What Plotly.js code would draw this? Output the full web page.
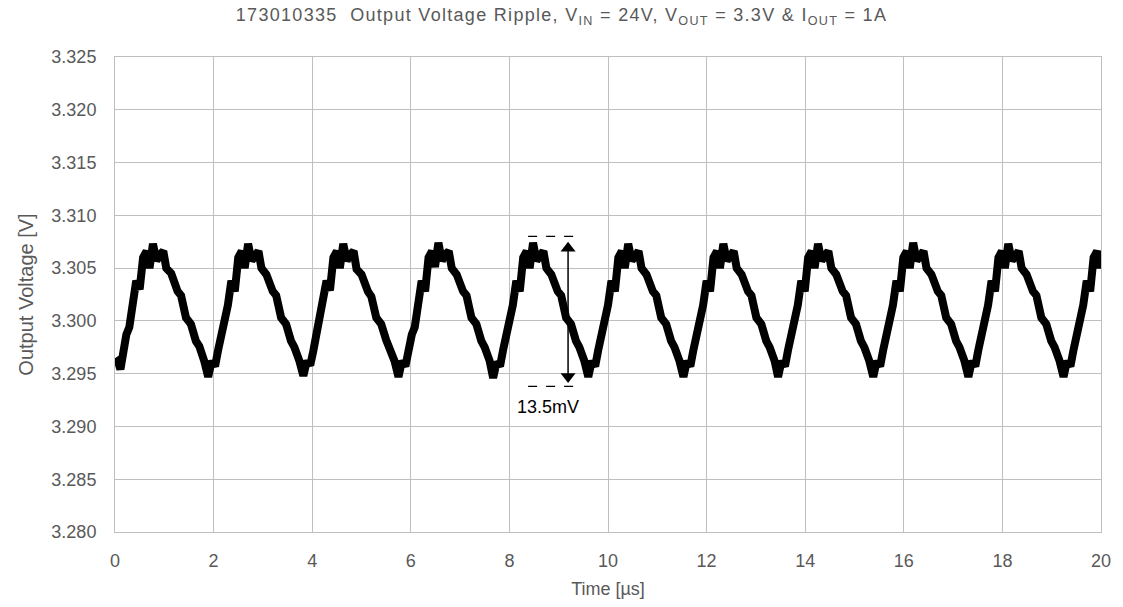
<!DOCTYPE html>
<html>
<head>
<meta charset="utf-8">
<script src="https://cdn.plot.ly/plotly-3.0.1.min.js"></script>
<style>html,body{margin:0;padding:0;background:#fff;}#chart{width:1123px;height:607px;}</style>
</head>
<body>
<div id="chart"></div>
<script>
// Time in microseconds
const timeUs = [
  0.00,0.06,0.11,0.16,0.23,0.29,0.36,0.43,0.50,0.57,0.64,0.70,0.77,0.84,0.91,0.98,1.04,1.14,1.27,1.34,1.44,1.54,1.64,1.71,1.81,
  1.89,1.96,2.03,2.09,2.16,2.22,2.29,2.36,2.43,2.50,2.57,2.63,2.70,2.77,2.84,2.91,2.97,3.07,3.20,3.27,3.37,3.47,3.57,3.64,3.74,
  3.82,3.89,3.96,4.02,4.09,4.15,4.22,4.29,4.36,4.43,4.50,4.56,4.63,4.70,4.77,4.84,4.90,5.00,5.13,5.20,5.30,5.40,5.50,5.57,5.67,
  5.75,5.82,5.89,5.95,6.02,6.08,6.15,6.22,6.29,6.36,6.43,6.49,6.56,6.63,6.70,6.77,6.83,6.93,7.06,7.13,7.23,7.33,7.43,7.50,7.60,
  7.67,7.74,7.81,7.87,7.94,8.00,8.07,8.14,8.21,8.28,8.35,8.41,8.48,8.55,8.62,8.69,8.75,8.85,8.98,9.05,9.15,9.25,9.35,9.42,9.52,
  9.60,9.67,9.74,9.80,9.87,9.93,10.00,10.07,10.14,10.21,10.28,10.34,10.41,10.48,10.55,10.62,10.68,10.78,10.91,10.98,11.08,11.18,11.28,11.35,11.45,
  11.53,11.60,11.67,11.73,11.80,11.86,11.93,12.00,12.07,12.14,12.21,12.27,12.34,12.41,12.48,12.55,12.61,12.71,12.84,12.91,13.01,13.11,13.21,13.28,13.38,
  13.45,13.52,13.59,13.65,13.72,13.78,13.85,13.92,13.99,14.06,14.13,14.19,14.26,14.33,14.40,14.47,14.53,14.63,14.76,14.83,14.93,15.03,15.13,15.20,15.30,
  15.38,15.45,15.52,15.58,15.65,15.71,15.78,15.85,15.92,15.99,16.06,16.12,16.19,16.26,16.33,16.40,16.46,16.56,16.69,16.76,16.86,16.96,17.06,17.13,17.23,
  17.31,17.38,17.45,17.51,17.58,17.64,17.71,17.78,17.85,17.92,17.99,18.05,18.12,18.19,18.26,18.33,18.39,18.49,18.62,18.69,18.79,18.89,18.99,19.06,19.16,
  19.24,19.31,19.38,19.44,19.51,19.57,19.64,19.71,19.78,19.85,19.92,19.98,20.00
];
// Output voltage in volts
const voltageV = [
  3.2960,3.2962,3.2954,3.2972,3.2987,3.2994,3.3015,3.3038,3.3030,3.3060,3.3066,3.3050,3.3073,3.3057,3.3063,3.3066,3.3050,3.3045,3.3028,3.3024,3.3003,3.2997,3.2981,3.2976,3.2962,
  3.2947,3.2962,3.2957,3.2972,3.2987,3.2994,3.3015,3.3038,3.3028,3.3060,3.3066,3.3050,3.3073,3.3057,3.3063,3.3066,3.3050,3.3044,3.3028,3.3024,3.3003,3.2997,3.2981,3.2975,3.2962,
  3.2948,3.2962,3.2958,3.2971,3.2988,3.2994,3.3014,3.3038,3.3029,3.3060,3.3066,3.3050,3.3073,3.3057,3.3063,3.3066,3.3049,3.3044,3.3028,3.3023,3.3003,3.2997,3.2982,3.2975,3.2962,
  3.2947,3.2962,3.2957,3.2972,3.2987,3.2994,3.3015,3.3038,3.3028,3.3060,3.3066,3.3051,3.3074,3.3057,3.3063,3.3066,3.3050,3.3044,3.3028,3.3024,3.3003,3.2997,3.2981,3.2975,3.2962,
  3.2946,3.2961,3.2957,3.2972,3.2987,3.2994,3.3015,3.3038,3.3028,3.3060,3.3066,3.3050,3.3074,3.3057,3.3063,3.3066,3.3050,3.3044,3.3028,3.3024,3.3003,3.2997,3.2981,3.2975,3.2962,
  3.2947,3.2962,3.2957,3.2972,3.2987,3.2994,3.3015,3.3038,3.3028,3.3060,3.3066,3.3050,3.3073,3.3057,3.3063,3.3066,3.3050,3.3044,3.3028,3.3024,3.3003,3.2997,3.2981,3.2975,3.2962,
  3.2947,3.2962,3.2957,3.2972,3.2987,3.2994,3.3015,3.3038,3.3028,3.3060,3.3066,3.3050,3.3073,3.3057,3.3063,3.3066,3.3050,3.3044,3.3028,3.3024,3.3003,3.2997,3.2981,3.2975,3.2962,
  3.2947,3.2962,3.2957,3.2972,3.2987,3.2994,3.3015,3.3038,3.3028,3.3060,3.3066,3.3050,3.3073,3.3057,3.3063,3.3066,3.3050,3.3044,3.3028,3.3024,3.3003,3.2997,3.2981,3.2975,3.2962,
  3.2947,3.2962,3.2957,3.2972,3.2987,3.2994,3.3015,3.3038,3.3028,3.3060,3.3066,3.3050,3.3074,3.3057,3.3063,3.3066,3.3050,3.3044,3.3028,3.3024,3.3003,3.2997,3.2981,3.2975,3.2962,
  3.2947,3.2962,3.2957,3.2972,3.2987,3.2994,3.3015,3.3038,3.3028,3.3060,3.3066,3.3050,3.3073,3.3057,3.3063,3.3066,3.3050,3.3044,3.3028,3.3024,3.3003,3.2997,3.2981,3.2975,3.2962,
  3.2947,3.2962,3.2957,3.2972,3.2987,3.2994,3.3015,3.3038,3.3028,3.3060,3.3066,3.3050,3.3058
];
// Axis ticks
const xTicks = [0,2,4,6,8,10,12,14,16,18,20];
const yTicks = [3.280,3.285,3.290,3.295,3.300,3.305,3.310,3.315,3.320,3.325];
const yTickLabels = ["3.280","3.285","3.290","3.295","3.300","3.305","3.310","3.315","3.320","3.325"];
// Ripple measurement marker (data coordinates)
const rippleLabel = "13.5mV";
const rippleTopV = 3.3080;
const rippleBottomV = 3.2938;
const rippleDashX = [8.38, 9.38];
const rippleArrowX = [9.19, 9.19];
const rippleArrowV = [3.30688, 3.29472];
const rippleLabelX = 8.78;
const rippleLabelV = 3.2918;

const grid = '#bfbfbf';
const txt = '#595959';
const fam = '"Liberation Sans", Arial, sans-serif';

const trace = {
  x: timeUs, y: voltageV, type: 'scatter', mode: 'lines',
  line: {color: '#000000', width: 8, shape: 'linear'},
  hoverinfo: 'skip', showlegend: false
};

const arrowTrace = {
  x: rippleArrowX, y: rippleArrowV, type: 'scatter', mode: 'lines+markers',
  line: {color: '#000000', width: 1.5},
  marker: {symbol: ['triangle-up', 'triangle-down'], size: 13, color: '#000000', line: {width: 0}},
  hoverinfo: 'skip', showlegend: false
};

const layout = {
  width: 1123, height: 607,
  margin: {l: 115, r: 22, t: 57, b: 75, pad: 0},
  paper_bgcolor: '#ffffff', plot_bgcolor: '#ffffff',
  font: {family: fam, color: txt, size: 18},
  title: {
    text: '<span style="letter-spacing:1.3px">173010335  Output Voltage Ripple, V<sub>IN</sub> = 24V, V<sub>OUT</sub> = 3.3V &amp; I<sub>OUT</sub> = 1A</span>',
    font: {family: fam, size: 18, color: txt},
    x: 0.5, xanchor: 'center', y: 0.975, yanchor: 'middle'
  },
  xaxis: {
    range: [0, 20], tickvals: xTicks, ticktext: xTicks.map(String),
    showgrid: true, gridcolor: grid, gridwidth: 1,
    showline: true, linecolor: grid, linewidth: 1, mirror: true,
    zeroline: false, ticks: '', ticklabelstandoff: 12,
    tickfont: {family: fam, size: 18, color: txt},
    title: {text: 'Time [µs]', font: {family: fam, size: 18, color: txt}, standoff: 12}
  },
  yaxis: {
    range: [3.280, 3.325], tickvals: yTicks, ticktext: yTickLabels,
    showgrid: true, gridcolor: grid, gridwidth: 1,
    showline: true, linecolor: grid, linewidth: 1, mirror: true,
    zeroline: false, ticks: '', ticklabelstandoff: 14,
    tickfont: {family: fam, size: 18, color: txt},
    title: {text: 'Output Voltage [V]', font: {family: fam, size: 20, color: txt}, standoff: 12}
  },
  shapes: [
    {type: 'line', xref: 'x', yref: 'y', x0: rippleDashX[0], x1: rippleDashX[1], y0: rippleTopV, y1: rippleTopV,
     line: {color: '#000000', width: 1.3, dash: 'dash'}},
    {type: 'line', xref: 'x', yref: 'y', x0: rippleDashX[0], x1: rippleDashX[1], y0: rippleBottomV, y1: rippleBottomV,
     line: {color: '#000000', width: 1.3, dash: 'dash'}}
  ],
  annotations: [
    {x: rippleLabelX, y: rippleLabelV, xref: 'x', yref: 'y', text: rippleLabel, showarrow: false,
     font: {family: fam, size: 18, color: '#000000'}, xanchor: 'center', yanchor: 'middle'}
  ]
};

Plotly.newPlot('chart', [trace, arrowTrace], layout, {displayModeBar: false, staticPlot: true});
</script>
</body>
</html>
